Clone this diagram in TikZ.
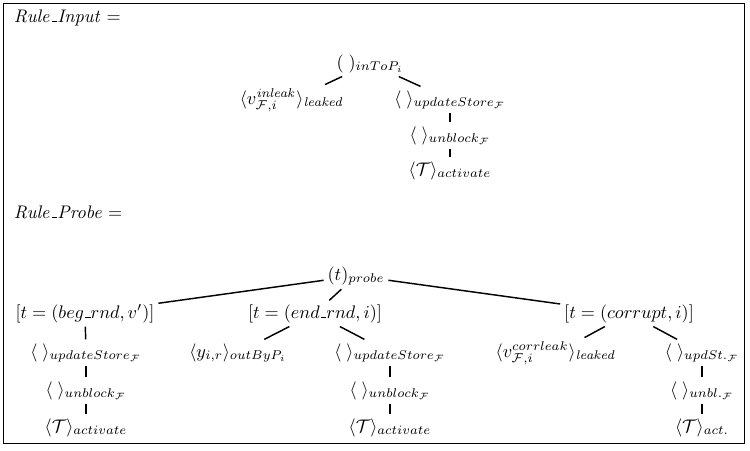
\documentclass[tikz,border=0pt]{standalone}
\usepackage{amsmath, amssymb}
\usepackage{tikz}

\newcommand{\usc}{\kern.06em\vbox{\hrule width.3em}}

\begin{document}
\begin{tikzpicture}[x=0.55pt, y=-0.55pt, every node/.style={anchor=base, inner sep=2pt}, edge/.style={thick}]
        \useasboundingbox (0,0) rectangle (750,450);
        \draw (3,3) rectangle (744,443);
        % first rule
        \node[anchor=base west] (ruleIn) at (10,22) {$\mathit{Rule\usc Input} =$};
        \node (root1) at (370,68) {$(\;)_{inToP_i}$};
        \node (leak1) at (292,104) {$\langle v^{\mathit{inleak}}_{\mathcal{F},i}\rangle_{\mathit{leaked}}$};
        \node (upd1) at (450,104) {$\langle\;\rangle_{updateStore_{\mathcal{F}}}$};
        \node (unb1) at (450,140) {$\langle\;\rangle_{unblock_{\mathcal{F}}}$};
        \node (act1) at (450,175) {$\langle\mathcal{T}\rangle_{activate}$};
        % second rule
        \node[anchor=base west] (ruleProbe) at (10,218) {$\mathit{Rule\usc Probe} =$};
        \node (root2) at (356,280) {$(t)_{probe}$};
        \node (beg) at (85,318) {$[t = (beg\usc rnd, v')]$};
        \node (endr) at (315,318) {$[t = (end\usc rnd, i)]$};
        \node (corr) at (629,318) {$[t = (corrupt, i)]$};
        \node (upd2a) at (86,357) {$\langle\;\rangle_{updateStore_{\mathcal{F}}}$};
        \node (unb2a) at (86,395) {$\langle\;\rangle_{unblock_{\mathcal{F}}}$};
        \node (act2a) at (86,432) {$\langle\mathcal{T}\rangle_{activate}$};
        \node (out) at (238,357) {$\langle y_{i,r}\rangle_{outByP_i}$};
        \node (upd2b) at (390,357) {$\langle\;\rangle_{updateStore_{\mathcal{F}}}$};
        \node (unb2b) at (390,395) {$\langle\;\rangle_{unblock_{\mathcal{F}}}$};
        \node (act2b) at (390,432) {$\langle\mathcal{T}\rangle_{activate}$};
        \node (leak2) at (556,357) {$\langle v^{corrleak}_{\mathcal{F},i}\rangle_{\mathit{leaked}}$};
        \node (upd2c) at (702,357) {$\langle\;\rangle_{updSt._{\mathcal{F}}}$};
        \node (unb2c) at (702,395) {$\langle\;\rangle_{unbl._{\mathcal{F}}}$};
        \node (act2c) at (702,432) {$\langle\mathcal{T}\rangle_{act.}$};
        \foreach \a/\b in {root1/leak1, root1/upd1, upd1/unb1, unb1/act1,
                root2/beg, root2/endr, root2/corr,
                beg/upd2a, upd2a/unb2a, unb2a/act2a,
                endr/out, endr/upd2b, upd2b/unb2b, unb2b/act2b,
                corr/leak2, corr/upd2c, upd2c/unb2c, unb2c/act2c} {
            \draw[edge] (\a) -- (\b);
        }
    \end{tikzpicture}
\end{document}
